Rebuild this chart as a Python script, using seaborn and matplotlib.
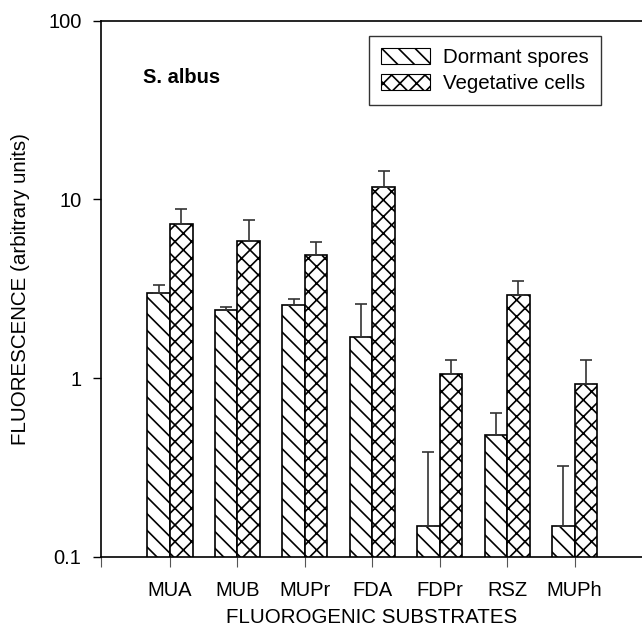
import matplotlib
matplotlib.use("Agg")
import matplotlib.pyplot as plt
from matplotlib.patches import Patch
import seaborn as sns
import pandas as pd
import numpy as np

categories = ['MUA', 'MUB', 'MUPr', 'FDA', 'FDPr', 'RSZ', 'MUPh']
series_names = ['Dormant spores', 'Vegetative cells']
dormant = [2.99, 2.42, 2.57, 1.71, 0.149, 0.479, 0.149]
dormant_err = [0.34, 0.07, 0.20, 0.88, 0.24, 0.164, 0.172]
vegetative = [7.27, 5.89, 4.90, 11.7, 1.055, 2.92, 0.927]
vegetative_err = [1.52, 1.74, 0.87, 2.65, 0.21, 0.60, 0.34]
y_ticks = [0.1, 1, 10, 100]
y_tick_labels = ['0.1', '1', '10', '100']

sns.set_style("ticks")
plt.rcParams['font.family'] = ['Liberation Sans', 'DejaVu Sans']
plt.rcParams['hatch.linewidth'] = 1.2
plt.rcParams['hatch.color'] = 'black'
plt.rcParams['text.color'] = 'black'
plt.rcParams['axes.labelcolor'] = 'black'
plt.rcParams['xtick.color'] = 'black'
plt.rcParams['ytick.color'] = 'black'

df = pd.DataFrame({
    'substrate': categories * 2,
    'series': [series_names[0]] * len(categories) + [series_names[1]] * len(categories),
    'value': dormant + vegetative,
})
errs = [dormant_err, vegetative_err]
hatches = ['\\\\', 'xx']

fig = plt.figure(figsize=(6.42, 6.26), dpi=100)
ax = fig.add_axes([101 / 642, 1 - 557 / 626, 1 - 101 / 642, (557 - 20.7) / 626])
ax.set_yscale('log')

sns.barplot(data=df, x='substrate', y='value', hue='series', order=categories,
            hue_order=series_names, palette=['white', 'white'], width=0.67,
            edgecolor='black', linewidth=1.2, errorbar=None, legend=False, ax=ax)

for cont, h, e in zip(ax.containers, hatches, errs):
    xs, ys = [], []
    for bar in cont:
        bar.set_hatch(h)
        bar.set_facecolor('white')
        bar.set_edgecolor('black')
        xs.append(bar.get_x() + bar.get_width() / 2)
        ys.append(bar.get_y() + bar.get_height())
    ax.errorbar(xs, ys, yerr=[np.zeros(len(e)), e], fmt='none', ecolor='#333333',
                elinewidth=1.2, capsize=4.5, capthick=1.2, zorder=1)

xl = (-1.023, 7.0)
ax.set_xlim(*xl)
ax.set_ylim(0.1, 100)
ax.set_yticks(y_ticks)
ax.set_yticklabels(y_tick_labels)
ax.yaxis.set_minor_locator(matplotlib.ticker.NullLocator())
ax.set_xticks([xl[0]] + list(range(len(categories))))
ax.set_xticklabels([''] + categories)

for s in ['left', 'bottom', 'top']:
    ax.spines[s].set_visible(True)
    ax.spines[s].set_color('black')
    ax.spines[s].set_linewidth(1.2)
ax.spines['right'].set_visible(False)

ax.tick_params(axis='y', direction='out', length=6, width=1.0, labelsize=14.5, pad=8,
               color='black', labelcolor='black')
ax.tick_params(axis='x', direction='out', length=7, width=0.8, labelsize=14.5, pad=10,
               color='#555555', labelcolor='black')

ax.set_xlabel('FLUOROGENIC SUBSTRATES', fontsize=14.8, labelpad=6, color='black')
ax.set_ylabel('FLUORESCENCE (arbitrary units)', fontsize=14.8, labelpad=13, color='black')

ax.text(0.078, 0.895, 'S. albus', transform=ax.transAxes, fontsize=14.5,
        fontweight='bold', va='center', ha='left', color='black')

handles = [Patch(facecolor='white', edgecolor='black', hatch=h, linewidth=0.8) for h in hatches]
leg = ax.legend(handles, series_names, loc='upper right', bbox_to_anchor=(0.924, 0.972),
                borderaxespad=0, fontsize=14.8, frameon=True, fancybox=False,
                handlelength=2.4, handleheight=0.8, handletextpad=0.6,
                labelspacing=0.33, borderpad=0.6)
leg.get_frame().set_edgecolor('black')
leg.get_frame().set_linewidth(1.0)
for t in leg.get_texts():
    t.set_color('black')

fig.savefig('out.png', dpi=100)
